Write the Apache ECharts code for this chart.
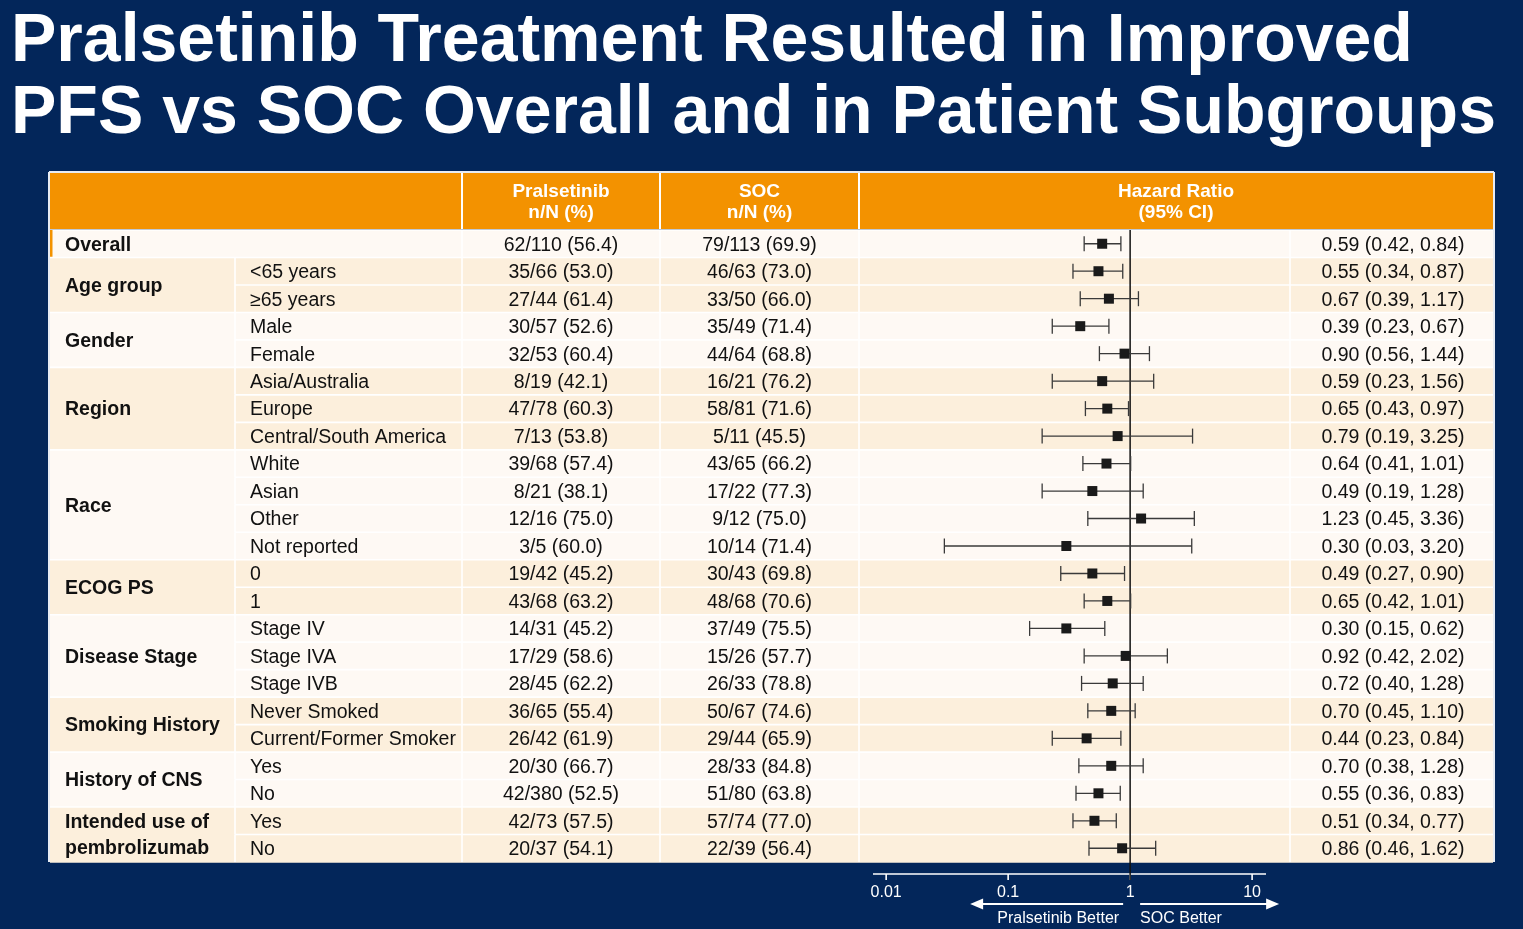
<!DOCTYPE html>
<html>
<head>
<meta charset="utf-8">
<script src="https://cdn.jsdelivr.net/npm/echarts@6/dist/echarts.min.js"></script>
<style>
html,body{margin:0;padding:0;background:#03265a;}
#main{width:1523px;height:929px;}
</style>
</head>
<body>
<div id="main"></div>
<script>
// ---------------- DATA ----------------
const titleLines = ['Pralsetinib Treatment Resulted in Improved', 'PFS vs SOC Overall and in Patient Subgroups'];
const headerLabels = ['Pralsetinib\nn/N (%)', 'SOC\nn/N (%)', 'Hazard Ratio\n(95% CI)'];
const groupNames = ['Overall', 'Age group', 'Gender', 'Region', 'Race', 'ECOG PS', 'Disease Stage', 'Smoking History', 'History of CNS', 'Intended use of\npembrolizumab'];
const groupSizes = [1, 2, 2, 3, 4, 2, 3, 2, 2, 2];
const subgroups = ['', '<65 years', '≥65 years', 'Male', 'Female', 'Asia/Australia', 'Europe', 'Central/South America', 'White', 'Asian', 'Other', 'Not reported', '0', '1', 'Stage IV', 'Stage IVA', 'Stage IVB', 'Never Smoked', 'Current/Former Smoker', 'Yes', 'No', 'Yes', 'No'];
const pralsetinib = ['62/110 (56.4)', '35/66 (53.0)', '27/44 (61.4)', '30/57 (52.6)', '32/53 (60.4)', '8/19 (42.1)', '47/78 (60.3)', '7/13 (53.8)', '39/68 (57.4)', '8/21 (38.1)', '12/16 (75.0)', '3/5 (60.0)', '19/42 (45.2)', '43/68 (63.2)', '14/31 (45.2)', '17/29 (58.6)', '28/45 (62.2)', '36/65 (55.4)', '26/42 (61.9)', '20/30 (66.7)', '42/380 (52.5)', '42/73 (57.5)', '20/37 (54.1)'];
const soc = ['79/113 (69.9)', '46/63 (73.0)', '33/50 (66.0)', '35/49 (71.4)', '44/64 (68.8)', '16/21 (76.2)', '58/81 (71.6)', '5/11 (45.5)', '43/65 (66.2)', '17/22 (77.3)', '9/12 (75.0)', '10/14 (71.4)', '30/43 (69.8)', '48/68 (70.6)', '37/49 (75.5)', '15/26 (57.7)', '26/33 (78.8)', '50/67 (74.6)', '29/44 (65.9)', '28/33 (84.8)', '51/80 (63.8)', '57/74 (77.0)', '22/39 (56.4)'];
const hr     = [0.59, 0.55, 0.67, 0.39, 0.90, 0.59, 0.65, 0.79, 0.64, 0.49, 1.23, 0.30, 0.49, 0.65, 0.30, 0.92, 0.72, 0.70, 0.44, 0.70, 0.55, 0.51, 0.86];
const ciLow  = [0.42, 0.34, 0.39, 0.23, 0.56, 0.23, 0.43, 0.19, 0.41, 0.19, 0.45, 0.03, 0.27, 0.42, 0.15, 0.42, 0.40, 0.45, 0.23, 0.38, 0.36, 0.34, 0.46];
const ciHigh = [0.84, 0.87, 1.17, 0.67, 1.44, 1.56, 0.97, 3.25, 1.01, 1.28, 3.36, 3.20, 0.90, 1.01, 0.62, 2.02, 1.28, 1.10, 0.84, 1.28, 0.83, 0.77, 1.62];
const axisTicks = [0.01, 0.1, 1, 10];
const axisTickLabels = ['0.01', '0.1', '1', '10'];
const directionLabels = ['Pralsetinib Better', 'SOC Better'];

// ---------------- LAYOUT / STYLE ----------------
const FONT = '"Liberation Sans", Arial, Helvetica, sans-serif';
const NAVY = '#03265a', ORANGE = '#f39200', LIGHT = '#fef9f4', BEIGE = '#fcefdc';
const TL = 50, TR = 1493, C1 = 235, C2 = 462, C3 = 660, C4 = 859, C5 = 1290;
const HEAD_TOP = 173, HEAD_BOT = 229;
const FS = 19.5, TY = 1.5;

const rowGroup = [], groupStart = [];
let acc = 0;
groupSizes.forEach((n, g) => { groupStart.push(acc); for (let k = 0; k < n; k++) rowGroup.push(g); acc += n; });

const chart = echarts.init(document.getElementById('main'), null, { renderer: 'canvas' });

function txt(text, x, y, opts) {
  return {
    type: 'text',
    style: Object.assign({
      text: text, x: x, y: y, fill: '#111', fontSize: FS, fontFamily: FONT,
      align: 'left', verticalAlign: 'middle'
    }, opts || {})
  };
}

// group backgrounds + group labels
function renderGroup(params, api) {
  const k = api.value(3);
  const h = api.size([0, 1])[1];
  const a = api.coord([1, api.value(1)]);
  const b = api.coord([1, api.value(2)]);
  const y0 = a[1] - h / 2, y1 = b[1] + h / 2;
  return {
    type: 'group', children: [
      { type: 'rect', z2: 0, shape: { x: TL, y: y0, width: TR - TL, height: y1 - y0 + 0.8 }, style: { fill: k % 2 ? BEIGE : LIGHT } },
      txt(groupNames[k], 65, (a[1] + b[1]) / 2 + TY, { fontWeight: 'bold', lineHeight: 26 })
    ]
  };
}

function renderRow(params, api) {
  const i = api.value(1);
  const c = api.coord([1, i]);
  const h = api.size([0, 1])[1];
  const y0 = c[1] - h / 2;
  const g = rowGroup[i];
  const first = groupStart[g] === i;
  const ch = [];
  const wl = { stroke: '#ffffff', lineWidth: 1.6 };
  ch.push({ type: 'line', shape: { x1: first ? TL : C1, y1: y0, x2: TR, y2: y0 }, style: wl });
  const xs = g === 0 ? [C2, C3, C4, C5] : [C1, C2, C3, C4, C5];
  xs.forEach(x => ch.push({ type: 'line', shape: { x1: x, y1: y0, x2: x, y2: y0 + h }, style: wl }));
  if (i === 0) ch.push({ type: 'rect', shape: { x: TL, y: y0, width: 2.5, height: h }, style: { fill: ORANGE } });
  ch.push(txt(subgroups[i], 250, c[1] + TY));
  ch.push(txt(pralsetinib[i], (C2 + C3) / 2, c[1] + TY, { align: 'center' }));
  ch.push(txt(soc[i], (C3 + C4) / 2, c[1] + TY, { align: 'center' }));
  const lab = hr[i].toFixed(2) + ' (' + ciLow[i].toFixed(2) + ', ' + ciHigh[i].toFixed(2) + ')';
  ch.push(txt(lab, (C5 + TR) / 2 + 1.5, c[1] + TY, { align: 'center' }));
  return { type: 'group', children: ch };
}

function renderCI(params, api) {
  const i = api.value(1);
  const p = api.coord([api.value(0), i]);
  const pl = api.coord([api.value(2), i]);
  const ph = api.coord([api.value(3), i]);
  const cap = 7.5, sq = 10;
  const st = { stroke: '#3a3a3a', lineWidth: 1.3 };
  return {
    type: 'group', children: [
      { type: 'line', shape: { x1: pl[0], y1: p[1], x2: ph[0], y2: p[1] }, style: st },
      { type: 'line', shape: { x1: pl[0], y1: p[1] - cap, x2: pl[0], y2: p[1] + cap }, style: st },
      { type: 'line', shape: { x1: ph[0], y1: p[1] - cap, x2: ph[0], y2: p[1] + cap }, style: st },
      { type: 'rect', shape: { x: p[0] - sq / 2, y: p[1] - sq / 2, width: sq, height: sq }, style: { fill: '#1a1a1a' } }
    ]
  };
}

function renderAxis(params, api) {
  const cs = params.coordSys;
  const h = api.size([0, 1])[1];
  const last = subgroups.length - 1;
  const one = api.coord([1, 0]);
  const top = one[1] - h / 2;
  const bottom = api.coord([1, last])[1] + h / 2;
  const ay = bottom + 12;
  const ch = [];
  const w = { stroke: '#ffffff', lineWidth: 1.6 };
  ch.push({ type: 'line', shape: { x1: cs.x, y1: ay, x2: cs.x + cs.width, y2: ay }, style: w });
  axisTicks.forEach((t, j) => {
    const p = api.coord([t, last]);
    ch.push({ type: 'line', shape: { x1: p[0], y1: ay, x2: p[0], y2: ay + 6 }, style: w });
    ch.push(txt(axisTickLabels[j], p[0], ay + 18.5, { fill: '#ffffff', fontSize: 16, align: 'center' }));
  });
  // reference line at HR = 1
  ch.push({ type: 'line', shape: { x1: one[0], y1: top, x2: one[0], y2: ay + 6 }, style: { stroke: '#111', lineWidth: 1.5 } });
  // direction arrows
  const ayA = ay + 30;
  const lx1 = one[0] - 7, lx2 = one[0] - 160;
  const rx1 = one[0] + 10, rx2 = one[0] + 149;
  ch.push({ type: 'line', shape: { x1: lx1, y1: ayA, x2: lx2 + 10, y2: ayA }, style: { stroke: '#fff', lineWidth: 2 } });
  ch.push({ type: 'polygon', shape: { points: [[lx2, ayA], [lx2 + 13, ayA - 5.5], [lx2 + 13, ayA + 5.5]] }, style: { fill: '#fff' } });
  ch.push({ type: 'line', shape: { x1: rx1, y1: ayA, x2: rx2 - 10, y2: ayA }, style: { stroke: '#fff', lineWidth: 2 } });
  ch.push({ type: 'polygon', shape: { points: [[rx2, ayA], [rx2 - 13, ayA - 5.5], [rx2 - 13, ayA + 5.5]] }, style: { fill: '#fff' } });
  ch.push(txt(directionLabels[0], one[0] - 11, ayA + 14.5, { fill: '#ffffff', fontSize: 16, align: 'right' }));
  ch.push(txt(directionLabels[1], one[0] + 10, ayA + 14.5, { fill: '#ffffff', fontSize: 16, align: 'left' }));
  return { type: 'group', children: ch };
}

const headerGraphics = [
  { type: 'rect', z: 10, shape: { x: TL, y: HEAD_TOP, width: TR - TL, height: HEAD_BOT - HEAD_TOP }, style: { fill: ORANGE } }
];
[C2, C3, C4].forEach(x => headerGraphics.push({ type: 'line', z: 11, shape: { x1: x, y1: HEAD_TOP, x2: x, y2: HEAD_BOT }, style: { stroke: '#fff', lineWidth: 2 } }));
const headerCenters = [(C2 + C3) / 2, (C3 + C4) / 2, (C4 + TR) / 2];
headerLabels.forEach((t, j) => headerGraphics.push({
  type: 'text', z: 12, style: { text: t, x: headerCenters[j], y: (HEAD_TOP + HEAD_BOT) / 2 + 1, fill: '#ffffff', fontSize: 19, fontWeight: 'bold', fontFamily: FONT, align: 'center', verticalAlign: 'middle', lineHeight: 21 }
}));

const option = {
  backgroundColor: NAVY,
  animation: false,
  grid: { left: 873, right: 257, top: 230, bottom: 67, containLabel: false },
  xAxis: {
    type: 'log', logBase: 10, min: 0.0078, max: 13,
    axisLine: { show: false }, axisTick: { show: false }, axisLabel: { show: false }, splitLine: { show: false }
  },
  yAxis: {
    type: 'value', inverse: true, min: -0.5, max: subgroups.length - 0.5,
    axisLine: { show: false }, axisTick: { show: false }, axisLabel: { show: false }, splitLine: { show: false }
  },
  graphic: [
    { type: 'text', style: { text: titleLines[0], x: 11, y: 42, fill: '#ffffff', fontSize: 68, fontWeight: 'bold', fontFamily: FONT, verticalAlign: 'middle' } },
    { type: 'text', style: { text: titleLines[1], x: 11, y: 114, fill: '#ffffff', fontSize: 68, fontWeight: 'bold', fontFamily: FONT, verticalAlign: 'middle' } },
    ...headerGraphics,
    { type: 'line', z: 100, shape: { x1: TL - 1, y1: HEAD_TOP - 1, x2: TR + 1, y2: HEAD_TOP - 1 }, style: { stroke: '#e8ecf3', lineWidth: 2 } },
    { type: 'line', z: 100, shape: { x1: TL - 1, y1: HEAD_TOP - 1, x2: TL - 1, y2: 862 }, style: { stroke: '#e8ecf3', lineWidth: 2 } },
    { type: 'line', z: 100, shape: { x1: TR + 1, y1: HEAD_TOP - 1, x2: TR + 1, y2: 862 }, style: { stroke: '#e8ecf3', lineWidth: 2 } }
  ],
  series: [
    {
      type: 'custom', name: 'groups', z: 1, clip: false,
      renderItem: renderGroup,
      data: groupNames.map((n, k) => [1, groupStart[k], groupStart[k] + groupSizes[k] - 1, k]),
      encode: { x: 0, y: 1 }, silent: true
    },
    {
      type: 'custom', name: 'rows', z: 2, clip: false,
      renderItem: renderRow,
      data: subgroups.map((s, i) => [1, i]),
      encode: { x: 0, y: 1 }, silent: true
    },
    {
      type: 'custom', name: 'axis', z: 3, clip: false,
      renderItem: renderAxis,
      data: [[1, subgroups.length - 1]],
      encode: { x: 0, y: 1 }, silent: true
    },
    {
      type: 'custom', name: 'hazard ratio', z: 4, clip: false,
      renderItem: renderCI,
      data: hr.map((v, i) => [v, i, ciLow[i], ciHigh[i]]),
      encode: { x: 0, y: 1 }, silent: true
    }
  ]
};
chart.setOption(option);
</script>
</body>
</html>
